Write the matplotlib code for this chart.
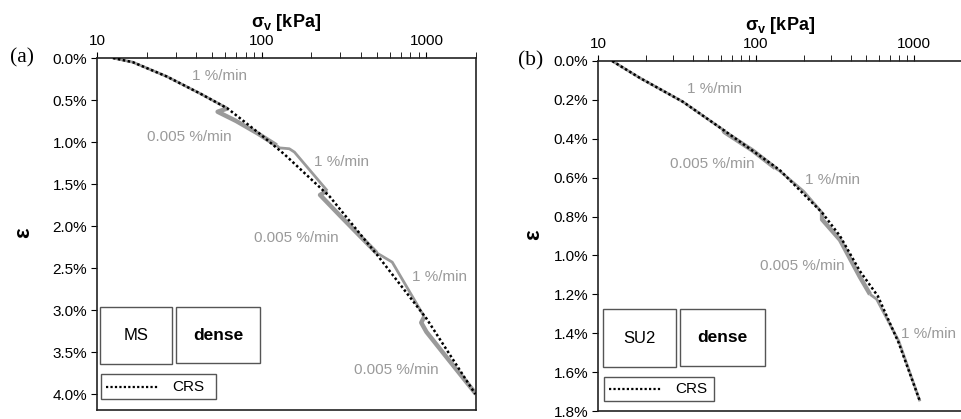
import matplotlib
matplotlib.use('Agg')
import matplotlib.pyplot as plt
from matplotlib.ticker import PercentFormatter, LogLocator, NullFormatter
from matplotlib.patches import Rectangle

plt.rcParams['font.family'] = ['Liberation Sans', 'DejaVu Sans']
plt.rcParams['mathtext.fontset'] = 'custom'
plt.rcParams['mathtext.rm'] = 'Liberation Sans'
plt.rcParams['mathtext.bf'] = 'Liberation Sans:bold'

# panel (a): MS dense
ms_crs_sig = [12.5, 16.5, 26.5, 42, 62, 97, 138, 259, 505, 1000, 1980]
ms_crs_eps = [0.0, 0.05, 0.22, 0.42, 0.60, 0.90, 1.15, 1.65, 2.35, 3.10, 4.00]
ms_step_sig = [12.5, 16.5, 26.5, 42, 62,
               54, 70, 95, 123,
               128, 147, 158, 250,
               226, 300, 400, 498,
               530, 620, 970,
               930, 1000, 1400, 2000]
ms_step_eps = [0.0, 0.05, 0.22, 0.42, 0.60,
               0.64, 0.75, 0.90, 1.04,
               1.07, 1.08, 1.12, 1.58,
               1.63, 1.88, 2.13, 2.32,
               2.35, 2.43, 3.08,
               3.15, 3.26, 3.62, 4.00]
ms_step_rate = [1, 1, 1, 1, 1,
                0.005, 0.005, 0.005, 0.005,
                1, 1, 1, 1,
                0.005, 0.005, 0.005, 0.005,
                1, 1, 1,
                0.005, 0.005, 0.005, 0.005]

# panel (b): SU2 dense
su_crs_sig = [12.3, 18.4, 34.5, 62, 141, 262, 340, 454, 591, 800, 1090]
su_crs_eps = [0.0, 0.087, 0.21, 0.354, 0.56, 0.78, 0.90, 1.08, 1.21, 1.45, 1.75]
su_step_sig = [12.3, 18.4, 34.5, 62,
               63, 95, 132,
               141, 200, 262,
               262, 340, 454, 527,
               580, 800, 1090]
su_step_eps = [0.0, 0.087, 0.21, 0.354,
               0.365, 0.46, 0.55,
               0.565, 0.67, 0.78,
               0.815, 0.92, 1.11, 1.20,
               1.225, 1.44, 1.75]
su_step_rate = [1, 1, 1, 1,
                0.005, 0.005, 0.005,
                1, 1, 1,
                0.005, 0.005, 0.005, 0.005,
                1, 1, 1]

W, H = 961, 419
fig = plt.figure(figsize=(W / 100, H / 100), dpi=100)
GRAY = '#9a9a9a'


def px(x0, y0, x1, y1):
    return [x0 / W, 1 - y1 / H, (x1 - x0) / W, (y1 - y0) / H]


def draw_steps(ax, sig, eps, rate):
    start = 0
    for i in range(1, len(sig) + 1):
        if i == len(sig) or rate[i] != rate[start]:
            j0 = max(start - 1, 0)
            lw = 3.2 if rate[start] < 1 else 2.0
            ax.plot(sig[j0:i], eps[j0:i], color=GRAY, lw=lw,
                    solid_capstyle='butt', solid_joinstyle='round', zorder=2)
            start = i


def style(ax, ymax, ystep):
    ax.set_xscale('log')
    ax.set_xlim(10, 2000)
    ax.set_ylim(ymax, 0)
    ax.xaxis.tick_top()
    ax.xaxis.set_label_position('top')
    ax.set_xticks([10, 100, 1000], labels=['10', '100', '1000'])
    ax.xaxis.set_minor_locator(LogLocator(base=10, subs=range(2, 10)))
    ax.xaxis.set_minor_formatter(NullFormatter())
    ax.tick_params(axis='x', which='both', direction='out', length=4,
                   labelsize=11, pad=3)
    ax.tick_params(axis='y', direction='out', length=4, labelsize=11, pad=3)
    ticks = [round(k * ystep, 2) for k in range(int(round(ymax / ystep)) + 1)]
    ax.set_yticks(ticks)
    ax.yaxis.set_major_formatter(PercentFormatter(xmax=100, decimals=1))
    ax.set_xlabel('σ$_\\mathbf{v}$ [kPa]', fontsize=13, fontweight='bold',
                  labelpad=5)
    ax.set_ylabel('ε', fontsize=16, fontweight='bold')
    for s in ax.spines.values():
        s.set_linewidth(1.2)
        s.set_color('#222222')


def boxes(name, b1, b2, b3):
    for (x0, y0, x1, y1), txt, fw, fs in [(b1, name, 'normal', 12),
                                         (b2, 'dense', 'bold', 12.5)]:
        fig.add_artist(Rectangle((x0 / W, 1 - y1 / H), (x1 - x0) / W,
                                 (y1 - y0) / H, transform=fig.transFigure,
                                 fc='white', ec='#555555', lw=1.0, zorder=5))
        fig.text((x0 + x1) / 2 / W, 1 - (y0 + y1) / 2 / H, txt, ha='center',
                 va='center', fontsize=fs, fontweight=fw, zorder=6)
    x0, y0, x1, y1 = b3
    fig.add_artist(Rectangle((x0 / W, 1 - y1 / H), (x1 - x0) / W,
                             (y1 - y0) / H, transform=fig.transFigure,
                             fc='white', ec='#555555', lw=1.0, zorder=5))
    ym = 1 - (y0 + y1) / 2 / H
    fig.add_artist(plt.Line2D([(x0 + 5) / W, (x0 + 57) / W], [ym, ym],
                              transform=fig.transFigure, color='black', lw=1.6,
                              ls=(0, (1, 1)), zorder=6))
    fig.text((x0 + 71) / W, ym, 'CRS', ha='left', va='center', fontsize=11,
             zorder=6)


# (a)
ax1 = fig.add_axes(px(97, 58, 476, 410))
draw_steps(ax1, ms_step_sig, ms_step_eps, ms_step_rate)
ax1.plot(ms_crs_sig, ms_crs_eps, color='black', lw=1.8, ls=(0, (1, 1)), zorder=3)
style(ax1, 4.19, 0.5)
ax1.set_yticks([k * 0.5 for k in range(9)])
ax1.yaxis.set_label_coords(-0.165, 0.503)
for xs, ys, t in [(55.6, 0.214, '1 %/min'), (36.6, 0.94, '0.005 %/min'),
                  (305, 1.24, '1 %/min'), (163, 2.14, '0.005 %/min'),
                  (1200, 2.61, '1 %/min'), (658, 3.71, '0.005 %/min')]:
    ax1.text(xs, ys, t, color=GRAY, fontsize=11, ha='center', va='center')
boxes('MS', (100, 307, 172, 364), (176, 307, 260, 363), (101, 374, 216, 399))
fig.text(22 / W, 1 - 58 / H, '(a)', family='Liberation Serif', fontsize=15.5,
         ha='center', va='center')

# (b)
ax2 = fig.add_axes(px(598, 61, 961.6, 411))
draw_steps(ax2, su_step_sig, su_step_eps, su_step_rate)
ax2.plot(su_crs_sig, su_crs_eps, color='black', lw=1.8, ls=(0, (1, 1)), zorder=3)
style(ax2, 1.8, 0.2)
ax2.yaxis.set_label_coords(-0.148, 0.503)
for xs, ys, t in [(55, 0.145, '1 %/min'), (52.7, 0.53, '0.005 %/min'),
                  (307, 0.61, '1 %/min'), (195, 1.055, '0.005 %/min'),
                  (1230, 1.405, '1 %/min')]:
    ax2.text(xs, ys, t, color=GRAY, fontsize=11, ha='center', va='center')
boxes('SU2', (603, 309, 676, 367), (680, 309, 765, 366), (604, 377, 714, 401))
fig.text(531 / W, 1 - 61 / H, '(b)', family='Liberation Serif', fontsize=15.5,
         ha='center', va='center')

fig.savefig('out.png', dpi=100)
